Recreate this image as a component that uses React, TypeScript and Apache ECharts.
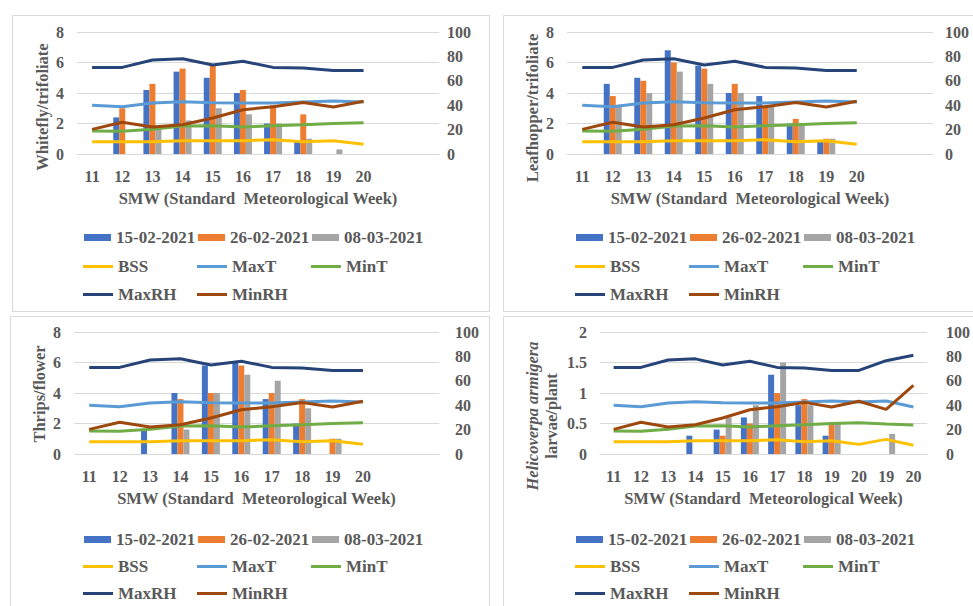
import React, { useEffect, useRef } from "react";
import * as echarts from "echarts";

// ---- categories (SMW) ----
const weeksMain = ["11", "12", "13", "14", "15", "16", "17", "18", "19", "20", "", ""];
const weeksHeli = ["11", "12", "13", "14", "15", "16", "17", "18", "19", "20", "19", "20"];

// ---- bar series names ----
const dateNames = ["15-02-2021", "26-02-2021", "08-03-2021"];
const lineNames = ["BSS", "MaxT", "MinT", "MaxRH", "MinRH"];

// ---- pest counts (weeks 11..20) ----
const whitefly15Feb = [0, 2.4, 4.2, 5.4, 5.0, 4.0, 2.0, 0.9, 0, 0];
const whitefly26Feb = [0, 3.0, 4.6, 5.6, 5.8, 4.2, 3.2, 2.6, 0, 0];
const whitefly08Mar = [0, 0, 1.6, 2.2, 3.0, 2.6, 2.0, 1.0, 0.3, 0];

const leafhopper15Feb = [0, 4.6, 5.0, 6.8, 5.8, 4.0, 3.8, 2.0, 0.8, 0];
const leafhopper26Feb = [0, 3.8, 4.8, 6.0, 5.6, 4.6, 3.2, 2.3, 1.0, 0];
const leafhopper08Mar = [0, 3.2, 4.0, 5.4, 4.6, 4.0, 3.2, 2.0, 1.0, 0];

const thrips15Feb = [0, 0, 1.6, 4.0, 5.8, 6.0, 3.6, 2.0, 0, 0];
const thrips26Feb = [0, 0, 0, 3.6, 4.0, 5.8, 4.0, 3.6, 1.0, 0];
const thrips08Mar = [0, 0, 0, 1.6, 4.0, 5.2, 4.8, 3.0, 1.0, 0];

// Helicoverpa: 12 weeks (11..20, 19, 20)
const heli15Feb = [0, 0, 0, 0.3, 0.4, 0.6, 1.3, 0.8, 0.3, 0, 0, 0];
const heli26Feb = [0, 0, 0, 0, 0.3, 0.5, 1.0, 0.9, 0.5, 0, 0, 0];
const heli08Mar = [0, 0, 0, 0, 0.6, 0.8, 1.5, 0.8, 0.5, 0, 0.33, 0];

// ---- weather (weeks 11..20) ----
const bss = [10, 10, 10, 10.9, 10.9, 10.9, 11.7, 10, 10.9, 7.9];
const maxT = [40, 38.8, 41.8, 42.8, 42, 41.8, 41.8, 42.6, 43.4, 42.6];
const minT = [18.8, 18.6, 20.2, 23, 23.2, 22.1, 23.2, 24, 24.9, 25.7];
const maxRH = [71, 71, 77, 78, 73, 76, 71, 70.5, 68.5, 68.5];
const minRH = [20.2, 26, 22.1, 24, 29.5, 36.3, 38.8, 42.3, 38.5, 43.2];
// extra two weeks shown in the Helicoverpa panel
const bssExtra = [12, 7.1];
const maxTExtra = [43.4, 38.5];
const minTExtra = [24.6, 23.8];
const maxRHExtra = [76.5, 80.9];
const minRHExtra = [36.6, 56.3];

// ---- left axis ticks ----
const leftMaxMain = 8;
const leftIntervalMain = 2;
const leftMaxHeli = 2;
const leftIntervalHeli = 0.5;
const rightMax = 100;
const rightInterval = 20;

const barColors = ["#4472C4", "#ED7D31", "#A5A5A5"];
const lineColors = ["#FFC000", "#5B9BD5", "#70AD47", "#264478", "#9E480E"];

const FONT = "'Liberation Serif', 'Times New Roman', serif";
const TXT = "#595959";
const GRIDC = "#d9d9d9";

export default function App() {
  const ref = useRef<HTMLDivElement>(null);

  useEffect(() => {
    if (!ref.current) return;
    const chart = echarts.init(ref.current, undefined, { renderer: "svg" });

    const panels = [
      {
        grid: { left: 77, top: 32, width: 362, height: 122 },
        cats: weeksMain,
        bars: [whitefly15Feb, whitefly26Feb, whitefly08Mar],
        lines: [bss, maxT, minT, maxRH, minRH],
        lmax: leftMaxMain, lint: leftIntervalMain, rmargin: 8,
        legX: [84, 198, 312], legY: [238, 267, 295],
      },
      {
        grid: { left: 567, top: 32, width: 366, height: 122 },
        cats: weeksMain,
        bars: [leafhopper15Feb, leafhopper26Feb, leafhopper08Mar],
        lines: [bss, maxT, minT, maxRH, minRH],
        lmax: leftMaxMain, lint: leftIntervalMain, rmargin: 12,
        legX: [576, 690, 804], legY: [238, 267, 295],
      },
      {
        grid: { left: 74, top: 332, width: 365, height: 122 },
        cats: weeksMain,
        bars: [thrips15Feb, thrips26Feb, thrips08Mar],
        lines: [bss, maxT, minT, maxRH, minRH],
        lmax: leftMaxMain, lint: leftIntervalMain, rmargin: 16,
        legX: [84, 198, 312], legY: [540, 567, 594],
      },
      {
        grid: { left: 600, top: 332, width: 333, height: 122 },
        cats: weeksHeli,
        bars: [heli15Feb, heli26Feb, heli08Mar],
        lines: [
          [...bss, ...bssExtra],
          [...maxT, ...maxTExtra],
          [...minT, ...minTExtra],
          [...maxRH, ...maxRHExtra],
          [...minRH, ...minRHExtra],
        ],
        lmax: leftMaxHeli, lint: leftIntervalHeli, rmargin: 19,
        legX: [576, 690, 804], legY: [540, 567, 594],
      },
    ];

    const labelStyle = { color: TXT, fontFamily: FONT, fontWeight: "bold" as const, fontSize: 16 };

    const grids: any[] = [];
    const xAxes: any[] = [];
    const yAxes: any[] = [];
    const series: any[] = [];
    const legends: any[] = [];

    panels.forEach((p, i) => {
      grids.push({ ...p.grid, containLabel: false });
      xAxes.push({
        type: "category",
        gridIndex: i,
        data: p.cats,
        axisTick: { show: false },
        axisLine: { show: true, lineStyle: { color: GRIDC, width: 1 } },
        axisLabel: { ...labelStyle, margin: 14, interval: 0 },
        name: "SMW (Standard  Meteorological Week)",
        nameLocation: "middle",
        nameGap: 36,
        nameTextStyle: { ...labelStyle, fontSize: 16.5 },
      });
      yAxes.push({
        type: "value",
        gridIndex: i,
        min: 0,
        max: p.lmax,
        interval: p.lint,
        position: "left",
        axisLine: { show: false },
        axisTick: { show: false },
        splitLine: { show: true, lineStyle: { color: GRIDC, width: 1 } },
        axisLabel: { ...labelStyle, margin: 13 },
      });
      yAxes.push({
        type: "value",
        gridIndex: i,
        min: 0,
        max: rightMax,
        interval: rightInterval,
        position: "right",
        axisLine: { show: false },
        axisTick: { show: false },
        splitLine: { show: false },
        axisLabel: { ...labelStyle, margin: p.rmargin, align: "left" },
      });
      p.bars.forEach((vals, k) => {
        series.push({
          type: "bar",
          name: dateNames[k],
          xAxisIndex: i,
          yAxisIndex: i * 2,
          data: vals,
          barWidth: 6,
          barGap: "0%",
          itemStyle: { color: barColors[k] },
          z: 2,
        });
      });
      p.lines.forEach((vals, k) => {
        series.push({
          type: "line",
          name: lineNames[k],
          xAxisIndex: i,
          yAxisIndex: i * 2 + 1,
          data: vals,
          symbol: "none",
          showSymbol: false,
          lineStyle: { color: lineColors[k], width: 3 },
          itemStyle: { color: lineColors[k] },
          z: 3,
        });
      });
      // legends: row 1 bars, rows 2-3 lines
      dateNames.forEach((n, k) => {
        legends.push({
          data: [n], left: p.legX[k], top: p.legY[0] - 9, padding: 0,
          icon: "rect", itemWidth: 27, itemHeight: 7, selectedMode: false,
          textStyle: { ...labelStyle, fontSize: 17 },
        });
      });
      lineNames.forEach((n, k) => {
        const row = k < 3 ? 1 : 2;
        const col = k < 3 ? k : k - 3;
        legends.push({
          data: [n], left: p.legX[col] - 1, top: p.legY[row] - 9, padding: 0,
          icon: "rect", itemWidth: 30, itemHeight: 3, selectedMode: false,
          textStyle: { ...labelStyle, fontSize: 17 },
        });
      });
    });

    const borders = [
      { x: 12, y: 15, w: 477, h: 296 },
      { x: 503, y: 15, w: 480, h: 296 },
      { x: 10, y: 316, w: 479, h: 300 },
      { x: 503, y: 316, w: 480, h: 300 },
    ];

    const titleFont = { fontFamily: FONT, fontWeight: "bold", fontSize: 16.5, fill: TXT };

    const graphics: any[] = borders.map((b) => ({
      type: "rect",
      shape: { x: b.x + 0.5, y: b.y + 0.5, width: b.w, height: b.h },
      style: { fill: "none", stroke: GRIDC, lineWidth: 1 },
      silent: true,
      z: -1,
    }));
    graphics.push(
      {
        type: "text", x: 42, y: 107, rotation: Math.PI / 2,
        style: { text: "Whitefly/trifoliate", align: "center", verticalAlign: "middle", ...titleFont },
      },
      {
        type: "text", x: 532, y: 108, rotation: Math.PI / 2,
        style: { text: "Leafhopper/trifoliate", align: "center", verticalAlign: "middle", ...titleFont },
      },
      {
        type: "text", x: 39, y: 394, rotation: Math.PI / 2,
        style: { text: "Thrips/flower", align: "center", verticalAlign: "middle", ...titleFont },
      },
      {
        type: "text", x: 542, y: 416, rotation: Math.PI / 2,
        style: {
          text: "{i|Helicoverpa armigera}\n{n|larvae/plant}",
          align: "center",
          verticalAlign: "middle",
          ...titleFont,
          rich: {
            i: { fontFamily: FONT, fontWeight: "bold", fontStyle: "italic", fontSize: 16.5, fill: TXT, lineHeight: 19, align: "center" },
            n: { fontFamily: FONT, fontWeight: "bold", fontSize: 16.5, fill: TXT, lineHeight: 19, align: "center" },
          },
        },
      }
    );

    chart.setOption({
      animation: false,
      backgroundColor: "#ffffff",
      grid: grids,
      xAxis: xAxes,
      yAxis: yAxes,
      legend: legends,
      series,
      graphic: graphics,
    });

    return () => chart.dispose();
  }, []);

  return (
    <div
      ref={ref}
      style={{ position: "fixed", left: 0, top: 0, width: 973, height: 606, background: "#fff" }}
    />
  );
}
